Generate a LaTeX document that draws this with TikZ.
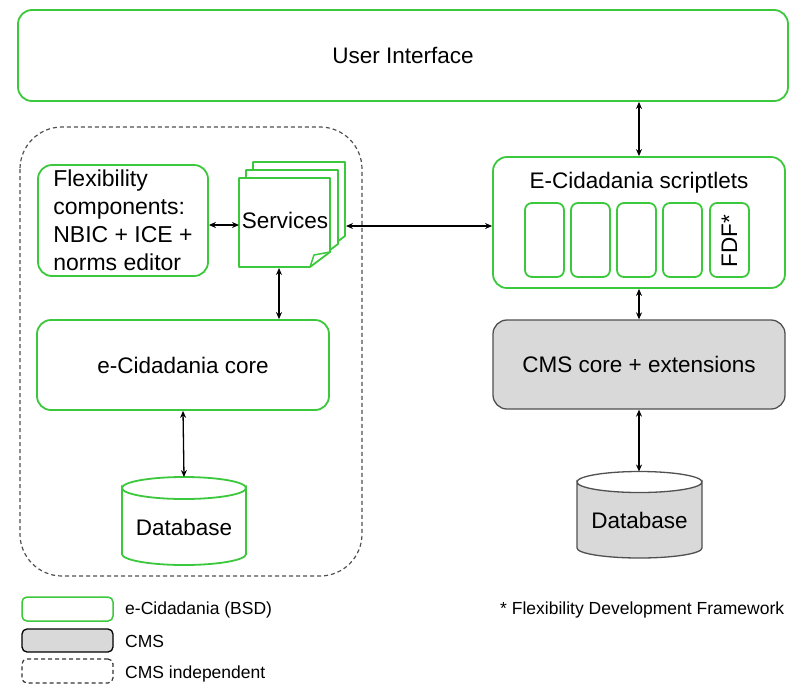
\documentclass[tikz,border=0pt]{standalone}
\usepackage{fontspec}
\setmainfont{Liberation Sans}
\usetikzlibrary{arrows.meta}
\definecolor{grn}{RGB}{60,200,60}
\definecolor{cmsgray}{RGB}{217,217,217}
\definecolor{edgegray}{RGB}{80,80,80}
\begin{document}
\begin{tikzpicture}[x=1pt,y=-1pt,
  txt/.style={font=\fontsize{22.5}{27}\selectfont, inner sep=0pt},
  gbox/.style={draw=grn, line width=1.8pt, rounded corners=14pt, fill=white, align=center, inner sep=0pt, font=\fontsize{22.5}{27}\selectfont},
  sbox/.style={draw=grn, line width=1.8pt, rounded corners=7pt, fill=white, inner sep=0pt, minimum width=39pt, minimum height=74pt},
  cbox/.style={draw=edgegray, line width=1.3pt, rounded corners=14pt, fill=cmsgray, align=center, inner sep=0pt, font=\fontsize{22.5}{27}\selectfont},
  page/.style={draw=grn, line width=1.8pt, fill=white, line join=round},
  arr/.style={draw=black, line width=1.3pt, {Stealth[length=7pt,width=6pt]}-{Stealth[length=7pt,width=6pt]}},
  legtxt/.style={font=\fontsize{17.5}{21}\selectfont, inner sep=0pt, anchor=west}
]
\useasboundingbox (0,0) rectangle (798,686);

% CMS independent dashed region
\draw[draw=edgegray, line width=1.2pt, dash pattern=on 4pt off 3pt, rounded corners=42pt] (20,127) rectangle (362,576);

% User interface
\node[gbox, minimum width=770pt, minimum height=91pt] (ui) at (403,55.5) {User Interface};

% Flexibility components
\node[gbox, minimum width=170pt, minimum height=111pt, align=left, font=\fontsize{23}{28}\selectfont] (flex) at (123,220.5) {Flexibility\\components:\\NBIC + ICE +\\norms editor};

% Services (stacked pages)
\draw[page] (253,162) -- (345,162) -- (345,236) -- (325,251) -- (253,251) -- cycle;
\draw[page] (246,170) -- (338,170) -- (338,244) -- (318,259) -- (246,259) -- cycle;
\draw[page] (239,178) -- (330,178) -- (330,252) -- (310,267) -- (239,267) -- cycle;
\draw[draw=grn, line width=1.5pt, line join=round] (310,267) -- (314,255) -- (330,252);
\node[txt] (svc) at (285,220) {Services};
\coordinate (svcL) at (239,225);
\coordinate (svcR) at (346,226);
\coordinate (svcB) at (279,268);

% e-Cidadania core
\node[gbox, minimum width=292pt, minimum height=90pt] (core) at (183,365) {e-Cidadania core};

% Left database
\draw[draw=grn, line width=1.8pt, fill=white] (122,488) -- (122,554) arc[start angle=180, end angle=360, x radius=62pt, y radius=11pt] -- (246,488) arc[start angle=0, end angle=-180, x radius=62pt, y radius=11pt] -- cycle;
\draw[draw=grn, line width=1.8pt] (122,488) arc[start angle=180, end angle=0, x radius=62pt, y radius=11pt];
\node[txt] (dbL) at (184,527) {Database};
\coordinate (dbLtop) at (184,477);

% E-Cidadania scriptlets
\node[gbox, minimum width=292pt, minimum height=131pt] (scr) at (639,222.5) {};
\node[txt] (scrtitle) at (639,183) {E-Cidadania scriptlets};
\node[sbox] (s1) at (544.5,240) {};
\node[sbox] (s2) at (590.5,240) {};
\node[sbox] (s3) at (636.5,240) {};
\node[sbox] (s4) at (682.5,240) {};
\node[sbox] (s5) at (729.5,240) {};
\node[txt, rotate=90] (fdf) at (729.5,241) {FDF*};

% CMS core
\node[cbox, minimum width=292pt, minimum height=89pt] (cms) at (639,364.5) {CMS core + extensions};

% Right database
\draw[draw=edgegray, line width=1.3pt, fill=cmsgray] (577,482) -- (577,548) arc[start angle=180, end angle=360, x radius=62.5pt, y radius=10pt] -- (702,482) arc[start angle=0, end angle=-180, x radius=62.5pt, y radius=10.5pt] -- cycle;
\draw[draw=edgegray, line width=1.3pt] (577,482) arc[start angle=180, end angle=0, x radius=62.5pt, y radius=10.5pt];
\node[txt] (dbR) at (639.5,520) {Database};
\coordinate (dbRtop) at (639,471.5);

% Connectors
\draw[arr] (scr.north) -- (scr.north |- ui.south);
\draw[arr] (flex.east |- svcL) -- (svcL);
\draw[arr] (svcR) -- (svcR -| scr.west);
\draw[arr] (svcB) -- (svcB |- core.north);
\draw[arr] (core.south) -- (dbLtop);
\draw[arr] (scr.south) -- (cms.north);
\draw[arr] (cms.south) -- (dbRtop);

% Legend
\node[draw=grn, line width=1.5pt, rounded corners=5pt, minimum width=91pt, minimum height=24pt, inner sep=0pt] (lg1) at (67.5,609) {};
\node[draw=black, line width=1.3pt, rounded corners=5pt, fill=cmsgray, minimum width=91pt, minimum height=23pt, inner sep=0pt] (lg2) at (67.5,640.5) {};
\node[draw=black!80, line width=1.2pt, dash pattern=on 4pt off 3pt, rounded corners=5pt, minimum width=91pt, minimum height=24pt, inner sep=0pt] (lg3) at (67.5,671) {};
\node[legtxt] (lt1) at (125,610) {e-Cidadania (BSD)};
\node[legtxt] (lt2) at (125,641) {CMS};
\node[legtxt] (lt3) at (125,674) {CMS independent};
\node[legtxt] (fn) at (500,610) {* Flexibility Development Framework};
\end{tikzpicture}
\end{document}
